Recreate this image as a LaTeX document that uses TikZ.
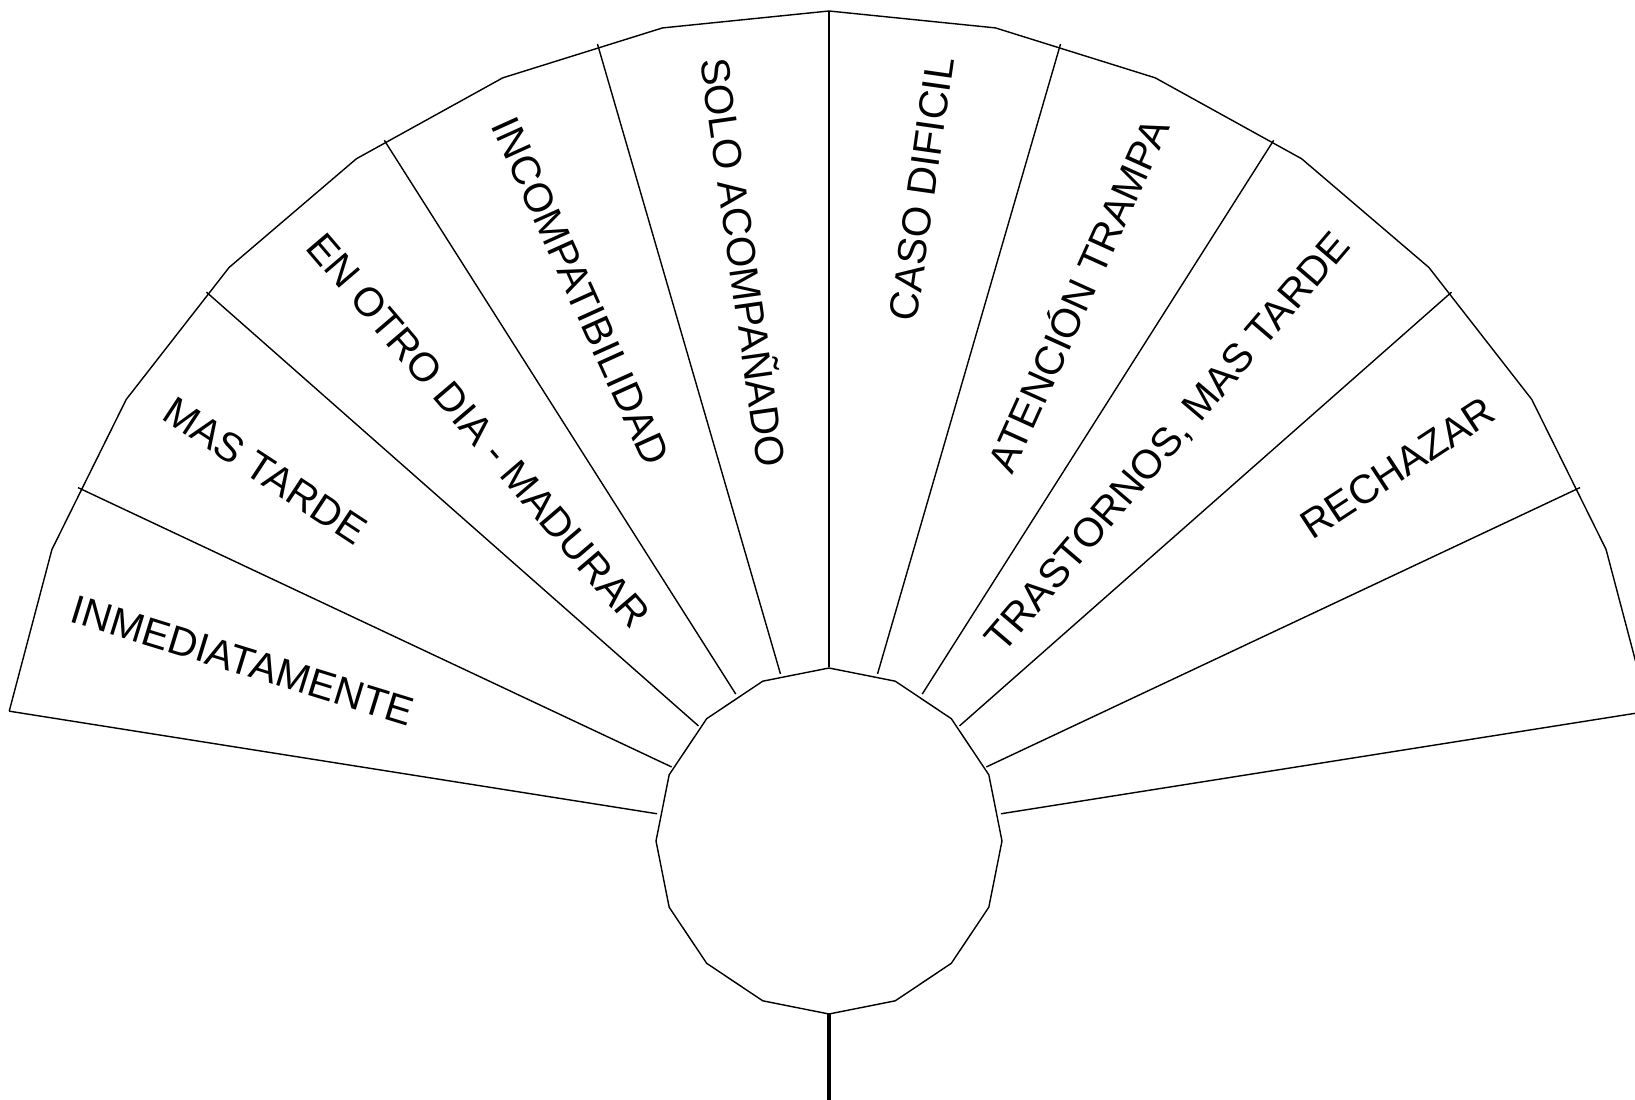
\documentclass[tikz,border=0pt]{standalone}
\usepackage{fontspec}
\setmainfont{Liberation Sans}
\usetikzlibrary{calc}

\tikzset{
  fanline/.style={line width=0.4pt},
  stemline/.style={line width=1pt},
  fanlabel/.style={font=\fontsize{11.5}{13}\selectfont, inner sep=0pt},
}

\begin{document}
\begin{tikzpicture}[x=0.01cm,y=0.01cm]
\useasboundingbox (0,0) rectangle (1635,1099);
\clip (0,0) rectangle (1635,1099);
\begin{scope}[shift={(829,258)}]
\coordinate (hub) at (0,0);
% hub: sixteen-sided polygon
\draw[fanline] (90:173) \foreach \k in {1,...,15}{ -- ({90+\k*22.5}:173) } -- cycle;
% outer rim, fourteen straight pieces
\draw[fanline] (9:830) \foreach \k in {1,...,14}{ -- ({9+\k*162/14}:830) };
% sector borders
\foreach \k in {0,...,10}{
  \draw[fanline] ({9+\k*16.2}:174) -- ({9+\k*16.2}:830);
}
% stem below the hub
\coordinate (stemend) at (-90:270);
\draw[stemline] (-90:173) -- (stemend);

% labels on the right half, read upwards
\foreach \j/\txt in {1/RECHAZAR, 2/{TRASTORNOS, MAS TARDE}, 3/ATENCIÓN TRAMPA, 4/CASO DIFICIL}{
  \pgfmathsetmacro{\a}{17.1+\j*16.2}
  \node[fanlabel, anchor=east, rotate=\a] (lbl\j) at (\a:792) {\txt};
}
% labels on the left half, read downwards
\foreach \j/\txt in {5/SOLO ACOMPAÑADO, 6/INCOMPATIBILIDAD, 7/EN OTRO DIA - MADURAR, 8/MAS TARDE, 9/INMEDIATAMENTE}{
  \pgfmathsetmacro{\a}{17.1+\j*16.2}
  \node[fanlabel, anchor=west, rotate=\a-180] (lbl\j) at (\a:792) {\txt};
}
\end{scope}
\end{tikzpicture}
\end{document}
